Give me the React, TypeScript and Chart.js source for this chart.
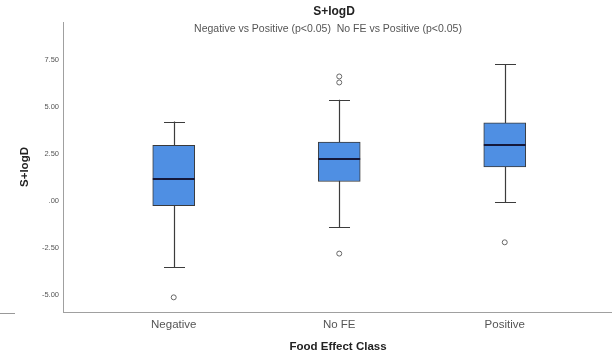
import React, { useEffect, useRef } from "react";
import { Chart, registerables } from "chart.js";

Chart.register(...registerables);

// Food effect classes and their box-plot summaries (S+logD)
const categories = ["Negative", "No FE", "Positive"];
const whiskerLow = [-3.53, -1.38, -0.05];
const q1 = [-0.25, 1.04, 1.81];
const median = [1.17, 2.23, 2.96];
const q3 = [2.96, 3.14, 4.16];
const whiskerHigh = [4.23, 5.39, 7.27];
const outliers = [[-5.13], [6.63, 6.31, -2.8], [-2.2]];

const yTickValues = [-5, -2.5, 0, 2.5, 5, 7.5];
const yTickLabels = ["-5.00", "-2.50", ".00", "2.50", "5.00", "7.50"];

const chartTitle = "S+logD";
const chartSubtitle = "Negative vs Positive (p<0.05)  No FE vs Positive (p<0.05)";
const xTitle = "Food Effect Class";
const yTitle = "S+logD";

const FONT = "'Liberation Sans', Arial, sans-serif";
const BOX_WIDTH = 0.253; // in x-axis units
const CAP_WIDTH = 0.127;

const boxPlotPlugin = {
  id: "boxPlotExtras",
  beforeDatasetsDraw(chart: any) {
    const { ctx, scales } = chart;
    const x = scales.x;
    const y = scales.y;
    ctx.save();
    ctx.strokeStyle = "#3c3c3c";
    ctx.lineWidth = 1.2;
    categories.forEach((_, i) => {
      const cx = Math.round(x.getPixelForValue(i + 1)) + 0.5;
      const half = x.getPixelForValue(i + 1 + CAP_WIDTH / 2) - x.getPixelForValue(i + 1);
      const yLo = y.getPixelForValue(whiskerLow[i]);
      const yHi = y.getPixelForValue(whiskerHigh[i]);
      ctx.beginPath();
      ctx.moveTo(cx, yLo);
      ctx.lineTo(cx, yHi);
      ctx.moveTo(cx - half, Math.round(yLo) + 0.5);
      ctx.lineTo(cx + half, Math.round(yLo) + 0.5);
      ctx.moveTo(cx - half, Math.round(yHi) + 0.5);
      ctx.lineTo(cx + half, Math.round(yHi) + 0.5);
      ctx.stroke();
    });
    ctx.restore();
  },
  afterDatasetsDraw(chart: any) {
    const { ctx, scales } = chart;
    const x = scales.x;
    const y = scales.y;
    ctx.save();
    ctx.strokeStyle = "#15183a";
    ctx.lineWidth = 2;
    categories.forEach((_, i) => {
      const l = x.getPixelForValue(i + 1 - BOX_WIDTH / 2);
      const r = x.getPixelForValue(i + 1 + BOX_WIDTH / 2);
      const ym = Math.round(y.getPixelForValue(median[i]));
      ctx.beginPath();
      ctx.moveTo(l, ym);
      ctx.lineTo(r, ym);
      ctx.stroke();
    });
    ctx.restore();
  },
  afterDraw(chart: any) {
    const { ctx, chartArea } = chart;
    ctx.save();
    ctx.fillStyle = "#222";
    ctx.textAlign = "center";
    ctx.textBaseline = "middle";
    ctx.font = `bold 12px ${FONT}`;
    ctx.fillText(chartTitle, 334, 12);
    ctx.fillStyle = "#555";
    ctx.font = `10.5px ${FONT}`;
    ctx.fillText(chartSubtitle, 328, 29);
    ctx.fillStyle = "#222";
    ctx.font = `bold 11.5px ${FONT}`;
    ctx.fillText(xTitle, 338, 347);
    ctx.translate(25, (chartArea.top + chartArea.bottom) / 2);
    ctx.rotate(-Math.PI / 2);
    ctx.fillText(yTitle, 0, 0);
    ctx.restore();
    // short rule at the lower left edge
    ctx.save();
    ctx.strokeStyle = "#999";
    ctx.lineWidth = 1;
    ctx.beginPath();
    ctx.moveTo(0, chartArea.bottom + 1.5);
    ctx.lineTo(15, chartArea.bottom + 1.5);
    ctx.stroke();
    ctx.restore();
  },
};

export default function App() {
  const canvasRef = useRef<HTMLCanvasElement | null>(null);

  useEffect(() => {
    document.body.style.margin = "0";
    const canvas = canvasRef.current;
    if (!canvas) return;

    const boxData = categories.map((_, i) => ({ x: i + 1, y: [q1[i], q3[i]] }));
    const outlierData: { x: number; y: number }[] = [];
    outliers.forEach((vals, i) => vals.forEach((v) => outlierData.push({ x: i + 1, y: v })));

    const chart = new Chart(canvas, {
      type: "bar",
      data: {
        datasets: [
          {
            type: "bar",
            label: "IQR",
            data: boxData as any,
            backgroundColor: "#4f8fe3",
            borderColor: "#3a3a3a",
            borderWidth: 1,
            borderSkipped: false,
            barThickness: 42,
          } as any,
          {
            type: "scatter",
            label: "Outliers",
            data: outlierData,
            pointStyle: "circle",
            pointRadius: 2.5,
            pointBackgroundColor: "#fff",
            pointBorderColor: "#666",
            pointBorderWidth: 1,
          } as any,
        ],
      },
      options: {
        responsive: false,
        animation: false,
        devicePixelRatio: 1,
        layout: { autoPadding: false, padding: { top: 22, left: 0, right: 0, bottom: 0 } },
        plugins: {
          legend: { display: false },
          tooltip: { enabled: false },
          title: { display: false },
        },
        scales: {
          x: {
            type: "linear",
            min: 0.331,
            max: 3.648,
            offset: false,
            grid: { display: false, drawTicks: false },
            border: { display: true, color: "#a0a0a0", width: 1 },
            afterBuildTicks: (scale: any) => {
              scale.ticks = categories.map((_, i) => ({ value: i + 1 }));
            },
            afterFit: (scale: any) => {
              scale.height = 44;
            },
            ticks: {
              padding: 6,
              color: "#555",
              font: { family: FONT, size: 11.5 },
              maxRotation: 0,
              autoSkip: false,
              callback: (v: any) => categories[Math.round(Number(v)) - 1] ?? "",
            },
          },
          y: {
            type: "linear",
            min: -5.91,
            max: 9.53,
            grid: { display: false, drawTicks: false },
            border: { display: true, color: "#a0a0a0", width: 1 },
            afterBuildTicks: (scale: any) => {
              scale.ticks = yTickValues.map((v) => ({ value: v }));
            },
            afterFit: (scale: any) => {
              scale.width = 63;
            },
            ticks: {
              padding: 4,
              color: "#555",
              font: { family: FONT, size: 7.5 },
              callback: (v: any) => {
                const idx = yTickValues.indexOf(Number(v));
                return idx >= 0 ? yTickLabels[idx] : "";
              },
            },
          },
        },
      },
      plugins: [boxPlotPlugin],
    });

    return () => chart.destroy();
  }, []);

  return (
    <div style={{ width: 612, height: 356, background: "#fff" }}>
      <canvas ref={canvasRef} width={612} height={356} />
    </div>
  );
}
